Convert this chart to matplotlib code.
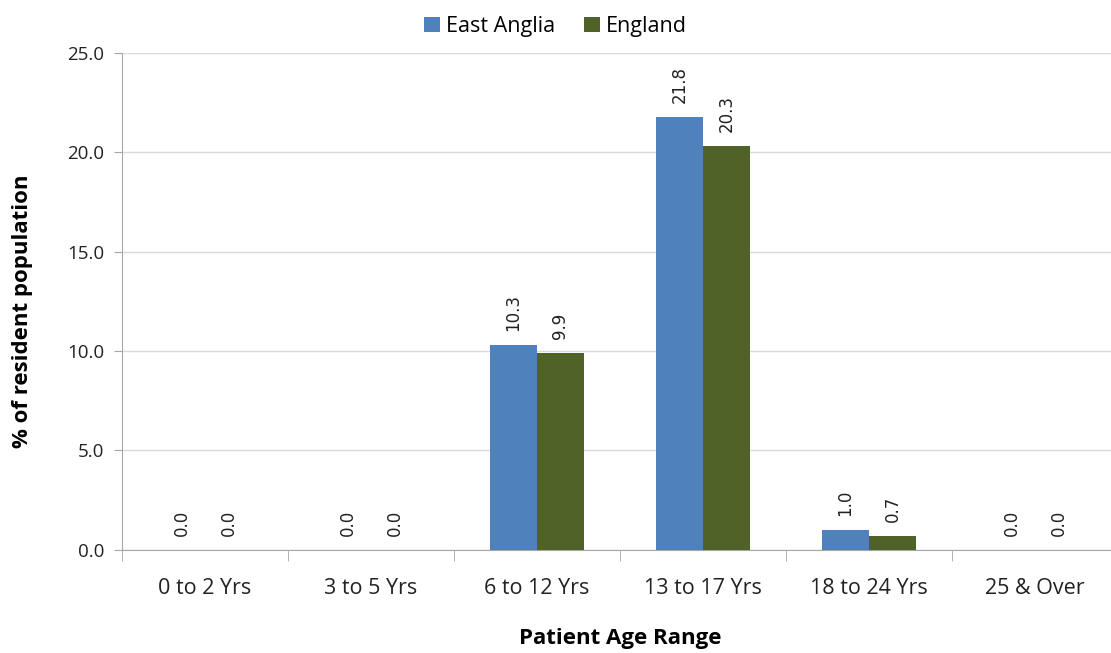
import matplotlib
matplotlib.use("Agg")
import matplotlib.pyplot as plt
import numpy as np

categories = ["0 to 2 Yrs", "3 to 5 Yrs", "6 to 12 Yrs", "13 to 17 Yrs", "18 to 24 Yrs", "25 & Over"]
east_anglia = [0.0, 0.0, 10.3, 21.8, 1.0, 0.0]
england = [0.0, 0.0, 9.9, 20.3, 0.7, 0.0]
series_names = ["East Anglia", "England"]
y_ticks = [0, 5, 10, 15, 20, 25]

plt.rcParams['font.family'] = ['Open Sans', 'DejaVu Sans']

fig = plt.figure(figsize=(11.11, 6.53), dpi=100)
# the plot area runs a little past the right edge, like the original
ax = fig.add_axes([0.1098, 0.158, 0.8965, 0.761])

x = np.arange(len(categories))
w = 0.283
b1 = ax.bar(x - w / 2, east_anglia, w, color="#4F81BD", label=series_names[0], zorder=3)
b2 = ax.bar(x + w / 2, england, w, color="#4F6228", label=series_names[1], zorder=3)

for bars, vals in ((b1, east_anglia), (b2, england)):
    for r, v in zip(bars, vals):
        ax.annotate(f"{v:.1f}", (r.get_x() + r.get_width() / 2, v),
                    xytext=(0, 10), textcoords="offset points",
                    rotation=90, ha="center", va="bottom",
                    fontsize=12, family="DejaVu Sans", color="#222222")

ax.set_xlim(-0.5, len(categories) - 0.5)
ax.set_ylim(0, 25)
ax.set_yticks(y_ticks)
ax.set_yticklabels([f"{t:.1f}" for t in y_ticks])
ax.yaxis.grid(True, color="#D9D9D9", linewidth=1, zorder=0)

ax.set_xticks(x)
ax.set_xticklabels(categories)
ax.set_xticks(np.arange(len(categories) + 1) - 0.5, minor=True)
ax.tick_params(axis="x", which="major", length=0, pad=20, labelsize=15.5, labelcolor="#222222")
ax.tick_params(axis="x", which="minor", length=8, color="#A6A6A6")
ax.tick_params(axis="y", length=6, color="#A6A6A6", labelsize=13.5, pad=7, labelcolor="#222222")

for s in ("top", "right"):
    ax.spines[s].set_visible(False)
for s in ("left", "bottom"):
    ax.spines[s].set_color("#A6A6A6")

ax.set_xlabel("Patient Age Range", fontsize=16, fontweight="bold", labelpad=21)
ax.set_ylabel("% of resident population", fontsize=16, fontweight="bold")
ax.yaxis.set_label_coords(-0.089, 0.48)

fig.legend(loc="upper center", bbox_to_anchor=(0.5, 1.005), ncol=2, frameon=False,
           fontsize=15.5, handlelength=0.75, handleheight=0.75, handletextpad=0.3,
           columnspacing=1.3)

fig.savefig("out.png", dpi=100)
